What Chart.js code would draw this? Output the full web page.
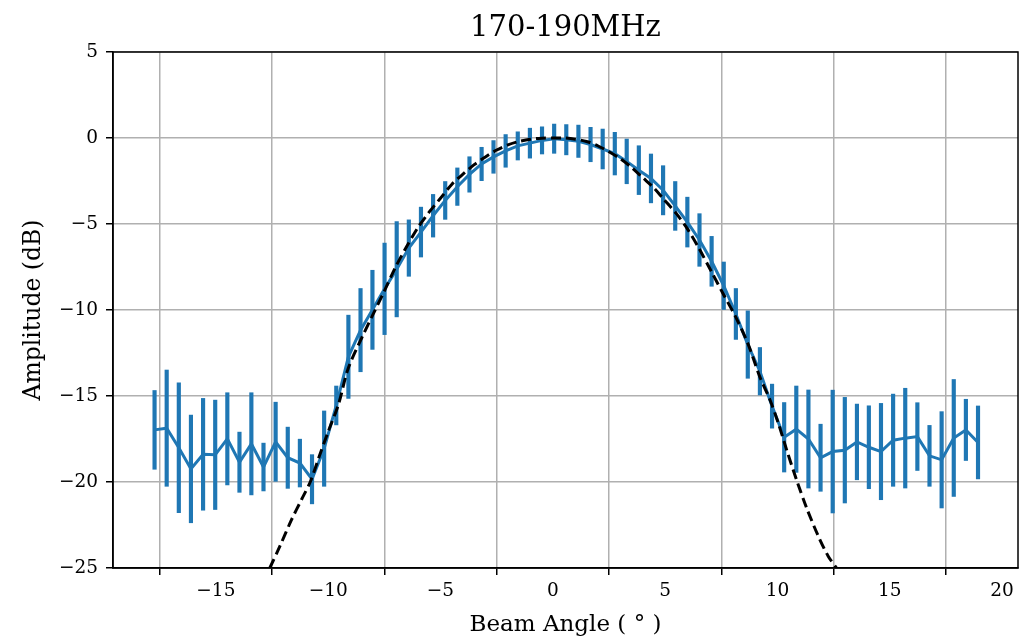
<!DOCTYPE html>
<html>
<head>
<meta charset="utf-8">
<script src="https://cdn.jsdelivr.net/npm/chart.js@4.4.1/dist/chart.umd.min.js"></script>
<style>
  html, body { margin: 0; padding: 0; background: #fff; }
  #wrap { width: 1029px; height: 640px; }
</style>
</head>
<body>
<div id="wrap"><canvas id="beam-chart"></canvas></div>
<script>
// measured beam (blue, with error bars)
const angles = [
    -17.73, -17.19, -16.65, -16.11, -15.57, -15.03, -14.49, -13.95, -13.42, -12.88,
    -12.34, -11.80, -11.26, -10.72, -10.18, -9.64, -9.10, -8.56, -8.03, -7.49,
    -6.95, -6.41, -5.87, -5.33, -4.79, -4.25, -3.71, -3.17, -2.64, -2.10,
    -1.56, -1.02, -0.48, 0.06, 0.60, 1.14, 1.68, 2.22, 2.76, 3.29,
    3.83, 4.37, 4.91, 5.45, 5.99, 6.53, 7.07, 7.61, 8.15, 8.68,
    9.22, 9.76, 10.30, 10.84, 11.38, 11.92, 12.46, 13.00, 13.54, 14.07,
    14.61, 15.15, 15.69, 16.23, 16.77, 17.31, 17.85, 18.39, 18.93,
];
const amplitude = [
    -16.97, -16.87, -18.01, -19.24, -18.39, -18.42, -17.49, -18.85, -17.78, -19.13,
    -17.66, -18.59, -18.90, -19.84, -18.06, -15.55, -12.72, -11.17, -9.99, -8.77,
    -7.63, -6.40, -5.47, -4.52, -3.63, -2.83, -2.12, -1.51, -1.10, -0.75,
    -0.46, -0.30, -0.14, -0.04, -0.10, -0.19, -0.38, -0.64, -0.91, -1.36,
    -1.87, -2.35, -3.04, -3.95, -4.89, -5.93, -7.17, -8.59, -10.23, -12.01,
    -13.56, -15.59, -17.40, -16.93, -17.50, -18.59, -18.23, -18.15, -17.67, -17.98,
    -18.23, -17.57, -17.45, -17.36, -18.48, -18.71, -17.44, -16.97, -17.70,
];
const amplitudeErr = [
    2.29, 3.38, 3.78, 3.13, 3.25, 3.18, 2.68, 1.75, 2.97, 1.39,
    2.30, 1.78, 1.39, 1.43, 2.19, 1.13, 2.42, 2.42, 2.30, 2.66,
    2.77, 1.64, 1.45, 1.24, 1.10, 1.09, 1.03, 0.97, 0.95, 0.95,
    0.82, 0.87, 0.79, 0.85, 0.88, 0.94, 1.00, 1.16, 1.24, 1.30,
    1.42, 1.42, 1.43, 1.42, 1.45, 1.53, 1.45, 1.38, 1.48, 1.96,
    1.38, 1.28, 2.02, 2.51, 2.85, 1.95, 3.57, 3.07, 2.20, 2.41,
    2.80, 2.68, 2.90, 1.97, 1.77, 2.80, 3.40, 1.78, 2.12,
];

// model beam (black dashed)
const modelAngles = [
    -12.60, -12.15, -11.63, -11.19, -10.79, -10.40, -10.00, -9.55, -9.11, -8.50,
    -8.02, -7.50, -7.00, -6.50, -6.00, -5.50, -5.00, -4.50, -4.00, -3.50,
    -3.00, -2.50, -2.00, -1.50, -1.00, -0.50, 0.00, 0.50, 1.00, 1.50,
    2.00, 2.50, 3.00, 3.50, 4.00, 4.50, 4.90, 5.50, 6.00, 6.50,
    7.07, 7.60, 8.14, 8.70, 9.22, 9.67, 10.04, 10.41, 10.85, 11.30,
    11.82, 12.26, 12.63,
];
const modelAmplitude = [
    -25.00, -23.73, -22.19, -21.03, -19.97, -18.52, -17.07, -15.52, -13.40, -11.60,
    -10.30, -8.90, -7.50, -6.30, -5.20, -4.30, -3.50, -2.70, -2.10, -1.55,
    -1.10, -0.70, -0.40, -0.20, -0.07, -0.01, 0.00, 0.00, -0.07, -0.20,
    -0.45, -0.80, -1.20, -1.70, -2.30, -2.90, -3.50, -4.40, -5.30, -6.40,
    -7.79, -9.10, -10.40, -12.00, -13.90, -15.23, -16.58, -18.13, -19.87, -21.51,
    -23.15, -24.31, -25.00,
];

const xTicks = [-15, -10, -5, 0, 5, 10, 15, 20];
const yTicks = [5, 0, -5, -10, -15, -20, -25];

const blue = '#1f77b4';
const serif = '"DejaVu Serif", "Liberation Serif", serif';
const minus = v => String(v).replace('-', '\u2212');

// box around the axes, and title centred over the plot area like matplotlib
const frame = {
    id: 'frame',
    afterLayout(chart) {
        if (chart.titleBlock) {
            chart.titleBlock.left = chart.chartArea.left;
            chart.titleBlock.right = chart.chartArea.right;
        }
    },
    afterDatasetsDraw(chart) {
        const {ctx, chartArea: a} = chart;
        ctx.save();
        ctx.strokeStyle = '#000';
        ctx.lineWidth = 1.5;
        ctx.strokeRect(a.left, a.top, a.right - a.left, a.bottom - a.top);
        ctx.restore();
    }
};

const beamCanvas = document.getElementById('beam-chart');
const beamChart = new Chart(beamCanvas, {
    type: 'line',
    data: {
        datasets: [
            {
                type: 'line',
                data: modelAngles.map((x, i) => ({x: x, y: modelAmplitude[i]})),
                borderColor: '#000',
                borderWidth: 3,
                borderDash: [10, 5],
                pointRadius: 0,
                tension: 0.3,
                order: 0,
            },
            {
                type: 'line',
                data: angles.map((x, i) => ({x: x, y: amplitude[i]})),
                borderColor: blue,
                borderWidth: 3,
                pointRadius: 0,
                tension: 0,
                order: 1,
            },
            {
                type: 'bar',
                data: angles.map((x, i) => ({x: x, y: [amplitude[i] - amplitudeErr[i], amplitude[i] + amplitudeErr[i]]})),
                backgroundColor: blue,
                borderWidth: 0,
                barThickness: 3.5,
                grouped: false,
                order: 2,
            },
        ]
    },
    options: {
        responsive: true,
        maintainAspectRatio: false,
        animation: false,
        layout: {padding: {left: 0, right: 11, top: 0, bottom: 0}},
        plugins: {
            legend: {display: false},
            tooltip: {enabled: false},
            title: {
                display: true,
                text: '170-190MHz',
                color: '#000',
                font: {family: serif, size: 29, weight: 'normal', lineHeight: 1.2},
                padding: {top: 10.6, bottom: 6.6},
            },
        },
        scales: {
            x: {
                type: 'linear',
                min: -19.58,
                max: 20.71,
                offset: false,
                afterFit: s => { s.height = 72; },
                afterBuildTicks: s => { s.ticks = xTicks.map(v => ({value: v})); },
                ticks: {
                    color: '#000',
                    font: {family: serif, size: 18.5},
                    padding: 5,
                    maxRotation: 0,
                    callback: v => minus(v),
                },
                grid: {color: '#b0b0b0', lineWidth: 1.5, tickLength: 7, tickColor: '#000', tickWidth: 1.5},
                border: {color: '#000', width: 1.5},
                title: {
                    display: true,
                    text: 'Beam Angle ( \u00b0 )',
                    color: '#000',
                    font: {family: serif, size: 23},
                    padding: {top: 0, bottom: 1},
                },
            },
            y: {
                type: 'linear',
                min: -25,
                max: 5,
                afterFit: s => { s.width = 113; },
                afterBuildTicks: s => { s.ticks = yTicks.map(v => ({value: v})); },
                ticks: {
                    color: '#000',
                    font: {family: serif, size: 18.5},
                    padding: 8,
                    callback: v => minus(v),
                },
                grid: {color: '#b0b0b0', lineWidth: 1.5, tickLength: 7, tickColor: '#000', tickWidth: 1.5},
                border: {color: '#000', width: 1.5},
                title: {
                    display: true,
                    text: 'Amplitude (dB)',
                    color: '#000',
                    font: {family: serif, size: 23.5},
                    padding: {top: 19.5, bottom: 0},
                },
            },
        },
    },
    plugins: [frame],
});
</script>
</body>
</html>
